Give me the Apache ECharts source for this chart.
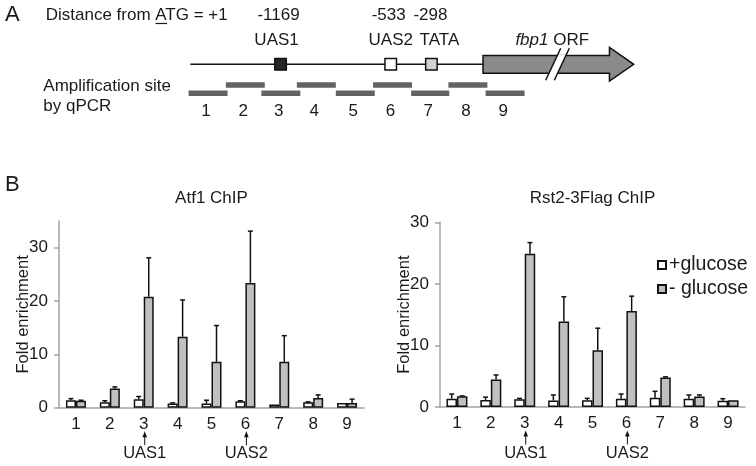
<!DOCTYPE html>
<html><head><meta charset="utf-8">
<script src="https://cdn.jsdelivr.net/npm/echarts@6/dist/echarts.min.js"></script>
<style>html,body{margin:0;padding:0;background:#fff}#c{width:756px;height:466px}</style>
</head><body><div id="c"></div>
<script>
// ---- Data ----
const sites = ['1','2','3','4','5','6','7','8','9'];
const atf1Plus     = [1.4, 1.0, 1.6, 0.8, 0.8, 1.2, 0.6, 1.0, 0.9];
const atf1PlusErr  = [0.3, 0.3, 0.5, 0.1, 0.6, 0.1, 0.0, 0.1, 0.0];
const atf1Minus    = [1.3, 3.6, 20.8, 13.3, 8.6, 23.4, 8.6, 1.8, 0.9];
const atf1MinusErr = [0.1, 0.3, 7.3, 6.9, 6.8, 9.7, 4.9, 0.6, 0.7];
const rst2Plus     = [1.35, 1.15, 1.25, 1.05, 1.1, 1.35, 1.5, 1.35, 1.0];
const rst2PlusErr  = [0.75, 0.45, 0.15, 0.9, 0.3, 0.75, 1.05, 0.6, 0.35];
const rst2Minus    = [1.75, 4.45, 24.9, 13.9, 9.2, 15.6, 4.8, 1.7, 1.1];
const rst2MinusErr = [0.05, 0.75, 1.8, 4.0, 3.6, 2.4, 0.1, 0.25, 0.0];
const yTicks = [0, 10, 20, 30];
const markedSites = [3, 6];
const markedNames = ['UAS1', 'UAS2'];
const seriesNames = ['+glucose', '- glucose'];
const titles = ['Atf1 ChIP', 'Rst2-3Flag ChIP'];
// promoter map (bp relative to ATG)
const featurePos  = [-1169, -533, -298];
const featureName = ['UAS1', 'UAS2', 'TATA'];
const ampliconStart = [-1700, -1485, -1280, -1075, -850, -635, -415, -200, 15];
const ampliconEnd   = [-1475, -1260, -1055, -850, -625, -410, -195, 25, 240];
const backboneStart = -1690, orfStart = 0, orfBodyEnd = 730, orfHeadEnd = 870, orfBreak = 430;

// ---- Chart ----
const FONT = "'Liberation Sans', Arial, Helvetica, sans-serif";
const TXT = '#1a1a1a';
const AX = '#a3a3a3';
const chart = echarts.init(document.getElementById('c'));

function txt(text, x, y, size, align, extra) {
  return Object.assign({type:'text', x:x, y:y, silent:true, style:{text:text, fontSize:size, fontFamily:FONT, fill:TXT,
    align:align||'left', textAlign:align||'left', verticalAlign:'middle', textVerticalAlign:'middle'}}, extra||{});
}

function errSeries(grid, vals, errs, offset) {
  return {type:'custom', xAxisIndex:grid, yAxisIndex:grid, z:5, silent:true, clip:false,
    data: vals.map((v,i)=>[i, v, errs[i]]),
    renderItem(params, api){
      const i=api.value(0), v=api.value(1), e=api.value(2);
      if (!(e>0.04)) return null;
      const p0=api.coord([i,v]), p1=api.coord([i,v+e]);
      const x=p0[0]+offset;
      return {type:'group', children:[
        {type:'line', shape:{x1:x,y1:p0[1],x2:x,y2:p1[1]}, style:{stroke:'#111',lineWidth:1.5}},
        {type:'line', shape:{x1:x-2.5,y1:p1[1],x2:x+2.5,y2:p1[1]}, style:{stroke:'#111',lineWidth:1.5}}]};
    }};
}
function markSeries(grid){
  return {type:'custom', xAxisIndex:grid, yAxisIndex:grid, silent:true, clip:false, z:5,
    data: markedSites.map((s,k)=>[s-1, 0, k]),
    renderItem(params, api){
      const p=api.coord([api.value(0),0]); const x=p[0]+1; const y0=p[1];
      const name=markedNames[api.value(2)];
      return {type:'group', children:[
        {type:'line', shape:{x1:x,y1:y0+37.5,x2:x,y2:y0+28}, style:{stroke:'#111',lineWidth:1}},
        {type:'polygon', shape:{points:[[x,y0+23.5],[x-2.3,y0+29.5],[x+2.3,y0+29.5]]}, style:{fill:'#111'}},
        {type:'text', x:x, y:y0+46, style:{text:name, fontSize:16.5, fontFamily:FONT, fill:TXT, align:'center', verticalAlign:'middle', textAlign:'center', textVerticalAlign:'middle'}}
      ]};
    }};
}
function barSeries(grid, name, vals, fill, bw){
  return {type:'bar', name:name, xAxisIndex:grid, yAxisIndex:grid, data:vals, barWidth:bw, barGap:'0%',
    itemStyle:{color:fill, borderColor:'#111', borderWidth:1.5}, silent:true, z:3};
}
function xAx(grid){
  return {type:'category', gridIndex:grid, data:sites, axisTick:{show:false},
    axisLine:{lineStyle:{color:AX,width:1.5}},
    axisLabel:{fontSize:17, fontFamily:FONT, color:TXT, margin:8}};
}
function yAx(grid, max){
  return {type:'value', gridIndex:grid, min:0, max:max, splitLine:{show:false},
    name:'Fold enrichment', nameLocation:'middle', nameGap:27, nameRotate:90, nameMoveOverlap:false,
    nameTextStyle:{fontSize:16.5, fontFamily:FONT, color:TXT},
    axisLine:{show:true, lineStyle:{color:AX,width:1.5}},
    axisTick:{show:true, length:5, lineStyle:{color:AX,width:1.5}, customValues:yTicks},
    axisLabel:{fontSize:17, fontFamily:FONT, color:TXT, margin:11, customValues:yTicks}};
}

const diagram = [
  // backbone + ORF arrow
  {type:'custom', xAxisIndex:2, yAxisIndex:2, silent:true, clip:false,
   data:[[backboneStart, orfStart, orfBodyEnd, orfHeadEnd, orfBreak]],
   renderItem(params, api){
     const c=(v)=>api.coord([v,0]);
     const y=c(0)[1];
     const xs=c(api.value(0))[0], x0=c(api.value(1))[0], xb=c(api.value(2))[0], xh=c(api.value(3))[0], xk=c(api.value(4))[0];
     const bh=8.85, hh=16.85;
     const k=7.5/16;
     return {type:'group', children:[
       {type:'line', shape:{x1:xs,y1:y,x2:x0,y2:y}, style:{stroke:'#111',lineWidth:1.5}},
       {type:'polygon', shape:{points:[[x0,y-bh],[xb,y-bh],[xb,y-hh],[xh,y],[xb,y+hh],[xb,y+bh],[x0,y+bh]]},
        style:{fill:'#8a8a8a', stroke:'#111', lineWidth:1.5, lineJoin:'miter'}},
       {type:'polygon', shape:{points:[[xk-4.3+k*(bh+1),y-bh-1],[xk+4.3+k*(bh+1),y-bh-1],[xk+4.3-k*(bh+1),y+bh+1],[xk-4.3-k*(bh+1),y+bh+1]]},
        style:{fill:'#fff'}},
       {type:'line', shape:{x1:xk-4.3+7.5,y1:y-16,x2:xk-4.3-7.5,y2:y+16}, style:{stroke:'#111',lineWidth:1.5}},
       {type:'line', shape:{x1:xk+4.3+7.5,y1:y-16,x2:xk+4.3-7.5,y2:y+16}, style:{stroke:'#111',lineWidth:1.5}},
       {type:'text', x:(x0+xb)/2+6, y:y-24.3, style:{text:'{i|fbp1} ORF', fontSize:17, fontFamily:FONT, fill:TXT,
         align:'center', verticalAlign:'middle', textAlign:'center', textVerticalAlign:'middle',
         rich:{i:{fontStyle:'italic', fontSize:17, fontFamily:FONT, fill:TXT}}}}
     ]};
   }},
  // promoter elements
  {type:'custom', xAxisIndex:2, yAxisIndex:2, silent:true, clip:false, z:4,
   data: featurePos.map((p,i)=>[p, 0, i]),
   renderItem(params, api){
     const p=api.coord([api.value(0),0]); const i=api.value(2);
     const fills=['#262626','#ffffff','#d2d2d2'];
     const dOff=[-2,-2,-1], nOff=[-4,0,8];
     const s=11.5;
     return {type:'group', children:[
       {type:'rect', shape:{x:p[0]-s/2,y:p[1]-s/2,width:s,height:s}, style:{fill:fills[i], stroke:'#111', lineWidth:1.5}},
       {type:'text', x:p[0]+dOff[i], y:p[1]-49.3, style:{text:String(featurePos[i]), fontSize:17, fontFamily:FONT, fill:TXT, align:'center', verticalAlign:'middle', textAlign:'center', textVerticalAlign:'middle'}},
       {type:'text', x:p[0]+nOff[i], y:p[1]-24.3, style:{text:featureName[i], fontSize:17, fontFamily:FONT, fill:TXT, align:'center', verticalAlign:'middle', textAlign:'center', textVerticalAlign:'middle'}}
     ]};
   }},
  // amplicons
  {type:'custom', xAxisIndex:2, yAxisIndex:2, silent:true, clip:false,
   data: ampliconStart.map((s,i)=>[s, ampliconEnd[i], i]),
   renderItem(params, api){
     const a=api.coord([api.value(0),0]), b=api.coord([api.value(1),0]); const i=api.value(2);
     const yc = a[1] + (i%2===0 ? 29 : 20.7);
     return {type:'group', children:[
       {type:'rect', shape:{x:a[0], y:yc-2.7, width:b[0]-a[0], height:5.4}, style:{fill:'#636363'}},
       {type:'text', x:(a[0]+b[0])/2-2, y:a[1]+47.4, style:{text:sites[i], fontSize:17, fontFamily:FONT, fill:TXT, align:'center', verticalAlign:'middle', textAlign:'center', textVerticalAlign:'middle'}}
     ]};
   }}
];

const option = {
  animation:false,
  backgroundColor:'#fff',
  textStyle:{fontFamily:FONT},
  grid:[
    {left:59, top:221, width:305, height:186.7},
    {left:440, top:222.3, width:305, height:184.7},
    {left:188.6, top:34.3, width:450.3, height:30}
  ],
  xAxis:[xAx(0), xAx(1), {type:'value', gridIndex:2, min:-1700, max:900, show:false}],
  yAxis:[yAx(0,35), yAx(1,30), {type:'value', gridIndex:2, min:0, max:1, show:false}],
  legend:{data:seriesNames, orient:'vertical', left:652, top:250, itemWidth:8, itemHeight:8, itemGap:4, icon:'rect',
    textStyle:{fontSize:19.5, fontFamily:FONT, color:TXT, padding:[0,0,0,-2]}},
  graphic:[
    txt('A', 5, 15, 22),
    txt('Distance from ATG = +1', 45.7, 15, 17),
    {type:'line', silent:true, shape:{x1:155.5,y1:23.5,x2:167,y2:23.5}, style:{stroke:TXT,lineWidth:1.2}},
    txt('Amplification site', 43.3, 86, 17),
    txt('by qPCR', 43.3, 106.7, 17),
    txt('B', 5, 185, 22),
    txt(titles[0], 211.5, 198.5, 17, 'center'),
    txt(titles[1], 592.5, 198.5, 17, 'center')
  ],
  series:[
    barSeries(0, seriesNames[0], atf1Plus, '#ffffff', 10),
    barSeries(0, seriesNames[1], atf1Minus, '#c0c0c0', 10),
    errSeries(0, atf1Plus, atf1PlusErr, -5),
    errSeries(0, atf1Minus, atf1MinusErr, 5),
    markSeries(0),
    barSeries(1, seriesNames[0], rst2Plus, '#ffffff', 10.5),
    barSeries(1, seriesNames[1], rst2Minus, '#c0c0c0', 10.5),
    errSeries(1, rst2Plus, rst2PlusErr, -5.25),
    errSeries(1, rst2Minus, rst2MinusErr, 5.25),
    markSeries(1)
  ].concat(diagram)
};
chart.setOption(option);
</script></body></html>
